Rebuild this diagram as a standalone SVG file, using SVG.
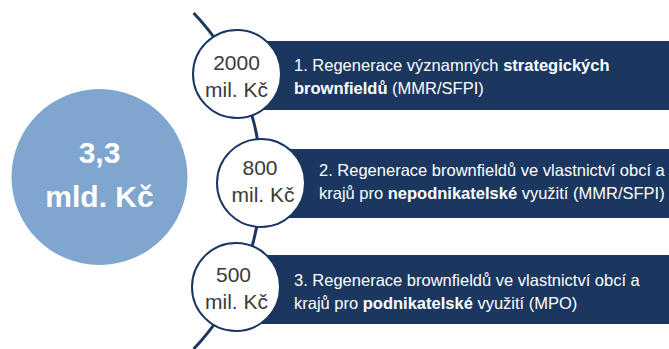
<svg xmlns="http://www.w3.org/2000/svg" width="669" height="349" viewBox="0 0 669 349">
<style>
.bar{fill:#1b375f}
.node{fill:#fff;stroke:#1b375f;stroke-width:2}
.amt{font-family:"Liberation Sans",Arial,sans-serif;font-size:21px;fill:#3a3a3a;text-anchor:middle}
.lbl{font-family:"Liberation Sans",Arial,sans-serif;font-size:16.5px;fill:#fff}
.big{font-family:"Liberation Sans",Arial,sans-serif;font-size:30px;font-weight:bold;fill:#fff;text-anchor:middle}
.b{font-weight:bold}
</style>
<rect width="669" height="349" fill="#fff"/>
<g id="connectors">
<path d="M193.6 13 A243 243 0 0 1 193.6 349" fill="none" stroke="#1b375f" stroke-width="3"/>
</g>
<g id="total">
<circle cx="99.5" cy="177" r="88" fill="#7ea6cf"/>
<text class="big" x="99.5" y="163">3,3</text>
<text class="big" x="99.5" y="207">mld. Kč</text>
</g>
<g id="item1">
<rect class="bar" x="237" y="41" width="432" height="69"/>
<circle class="node" cx="237" cy="74" r="44"/>
<text class="amt" x="236.5" y="70">2000</text>
<text class="amt" x="236.5" y="97">mil. Kč</text>
<text class="lbl" x="294" y="71">1. Regenerace významných <tspan class="b">strategických</tspan></text>
<text class="lbl" x="294" y="94"><tspan class="b">brownfieldů</tspan> (MMR/SFPI)</text>
</g>
<g id="item2">
<rect class="bar" x="261" y="149" width="408" height="69"/>
<circle class="node" cx="261" cy="183" r="44"/>
<text class="amt" x="260" y="175">800</text>
<text class="amt" x="263" y="202">mil. Kč</text>
<text class="lbl" x="319" y="176">2. Regenerace brownfieldů ve vlastnictví obcí a</text>
<text class="lbl" x="319" y="199">krajů pro <tspan class="b">nepodnikatelské</tspan> využití (MMR/SFPI)</text>
</g>
<g id="item3">
<rect class="bar" x="236" y="255" width="433" height="69"/>
<circle class="node" cx="236" cy="287" r="44"/>
<text class="amt" x="233.5" y="282">500</text>
<text class="amt" x="236.5" y="309">mil. Kč</text>
<text class="lbl" x="294" y="286">3. Regenerace brownfieldů ve vlastnictví obcí a</text>
<text class="lbl" x="294" y="309">krajů pro <tspan class="b">podnikatelské</tspan> využití (MPO)</text>
</g>
</svg>
